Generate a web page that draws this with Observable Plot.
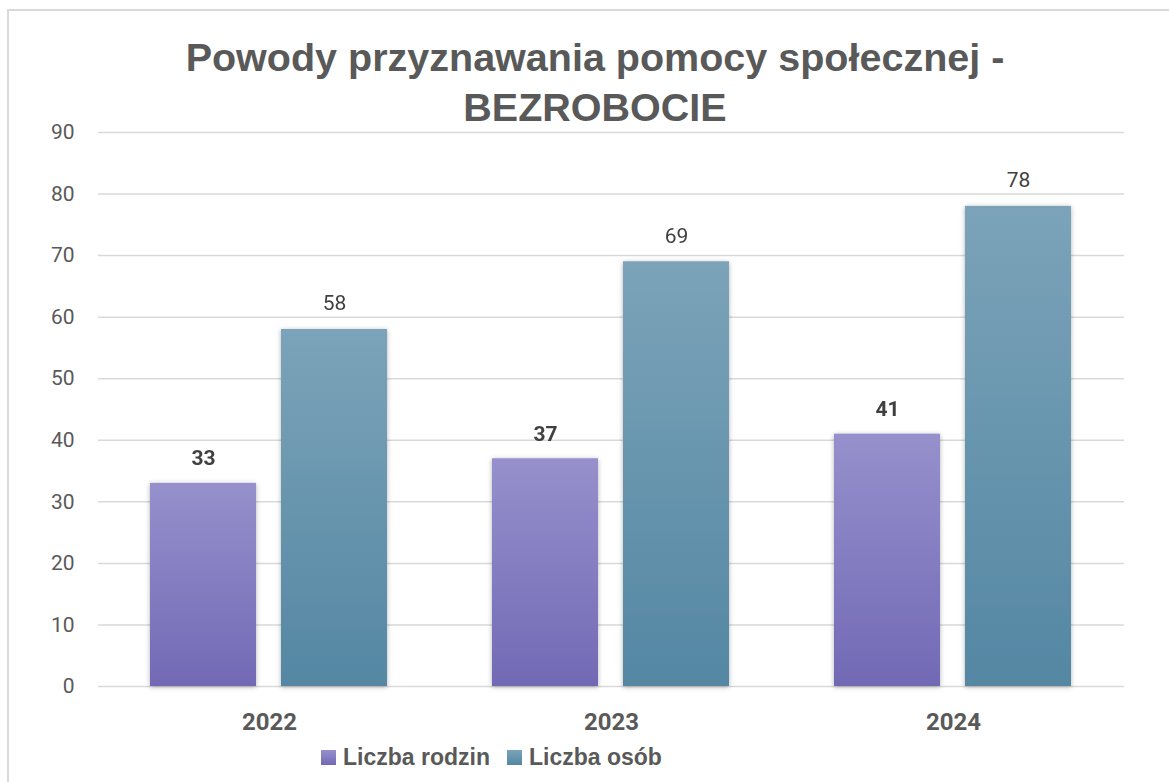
<!DOCTYPE html>
<html>
<head>
<meta charset="utf-8">
<script src="https://cdn.jsdelivr.net/npm/d3@7"></script>
<script src="https://cdn.jsdelivr.net/npm/@observablehq/plot@0.6"></script>
<style>
  html, body { margin: 0; padding: 0; background: #fff; overflow: hidden; }
  body { width: 1169px; height: 782px; position: relative; font-family: Roboto, "Liberation Sans", sans-serif; }
  #frame { position: absolute; left: 7px; top: 9px; width: 1200px; height: 820px; border: 2px solid #d9d9d9; box-sizing: border-box; }
  #title { position: absolute; left: 0; top: 0; width: 1190px; text-align: center; color: #595959; font-family: "Liberation Sans", Arial, sans-serif; font-weight: bold; font-size: 39.5px; line-height: 50px; padding-top: 32px; }
  #chart { position: absolute; left: 0; top: 120px; }
  #legend { position: absolute; left: 321px; top: 744px; display: flex; align-items: center; color: #595959; font-family: "Liberation Sans", Arial, sans-serif; font-weight: bold; font-size: 23px; }
  .sw { width: 15px; height: 15px; display: inline-block; margin-right: 7px; }
  .item { display: flex; align-items: center; margin-right: 17px; }
</style>
</head>
<body>
<div id="frame"></div>
<div id="title">Powody przyznawania pomocy społecznej -<br>BEZROBOCIE</div>
<div id="chart"></div>
<div id="legend"></div>
<script>
const years = ["2022", "2023", "2024"];
const seriesNames = ["Liczba rodzin", "Liczba osób"];
const rodzin = [33, 37, 41];
const osob = [58, 69, 78];
const yTicks = [0, 10, 20, 30, 40, 50, 60, 70, 80, 90];

const rowsR = years.map((y, i) => ({year: y, series: seriesNames[0], value: rodzin[i]}));
const rowsO = years.map((y, i) => ({year: y, series: seriesNames[1], value: osob[i]}));

const chart = Plot.plot({
  width: 1169,
  height: 620,
  marginLeft: 97,
  marginRight: 44,
  marginTop: 12,
  marginBottom: 54,
  style: {fontFamily: "Roboto, 'Liberation Sans', sans-serif", background: "transparent"},
  fx: {domain: years, paddingInner: 0, paddingOuter: 0, label: null},
  x: {domain: seriesNames, paddingInner: 0.189, paddingOuter: 0.393, axis: null},
  y: {domain: [0, 90], label: null},
  marks: [
    Plot.gridY(yTicks, {stroke: "#d9d9d9", strokeOpacity: 1, strokeWidth: 1.5}),
    Plot.axisY(yTicks, {tickSize: 0, tickPadding: 24, fontSize: 21, fill: "#595959", label: null}),
    Plot.axisFx({anchor: "bottom", tickSize: 0, tickPadding: 26, fontSize: 24, fontWeight: "bold", fill: "#595959", label: null}),
    Plot.barY(rowsR, {fx: "year", x: "series", y: "value", fill: "url(#gradP)"}),
    Plot.barY(rowsO, {fx: "year", x: "series", y: "value", fill: "url(#gradT)"}),
    Plot.text(rowsR, {fx: "year", x: "series", y: "value", text: d => String(d.value), lineAnchor: "bottom", dy: -18, fontSize: 21, fontWeight: "bold", fill: "#404040"}),
    Plot.text(rowsO, {fx: "year", x: "series", y: "value", text: d => String(d.value), lineAnchor: "bottom", dy: -19, fontSize: 21, fill: "#404040"})
  ]
});

const ns = "http://www.w3.org/2000/svg";
const defs = document.createElementNS(ns, "defs");
defs.innerHTML = `
  <linearGradient id="gradP" x1="0" y1="0" x2="0" y2="1">
    <stop offset="0" stop-color="#9690cc"/>
    <stop offset="1" stop-color="#7269b5"/>
  </linearGradient>
  <linearGradient id="gradT" x1="0" y1="0" x2="0" y2="1">
    <stop offset="0" stop-color="#7ba3b9"/>
    <stop offset="1" stop-color="#5487a3"/>
  </linearGradient>
  <filter id="shadow" x="-20%" y="-20%" width="140%" height="140%">
    <feDropShadow dx="0" dy="1" stdDeviation="2.5" flood-color="#000" flood-opacity="0.3"/>
  </filter>`;
chart.insertBefore(defs, chart.firstChild);
chart.querySelectorAll('g[aria-label="bar"]').forEach(g => g.setAttribute("filter", "url(#shadow)"));
document.getElementById("chart").appendChild(chart);

const legend = document.getElementById("legend");
const swatches = ["linear-gradient(#9690cc, #7269b5)", "linear-gradient(#7ba3b9, #5487a3)"];
seriesNames.forEach((name, i) => {
  const item = document.createElement("div");
  item.className = "item";
  const sw = document.createElement("span");
  sw.className = "sw";
  sw.style.background = swatches[i];
  item.appendChild(sw);
  item.appendChild(document.createTextNode(name));
  legend.appendChild(item);
});
</script>
</body>
</html>
